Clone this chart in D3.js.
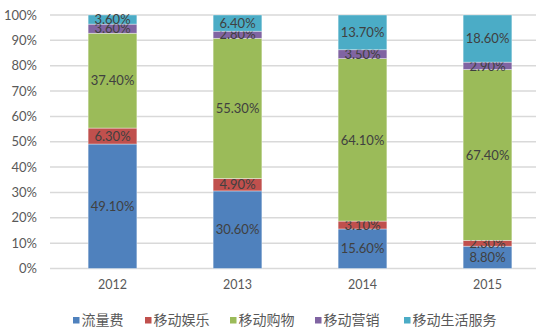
<!DOCTYPE html>
<html><head><meta charset="utf-8">
<script src="https://cdn.jsdelivr.net/npm/d3@7"></script>
<style>
body{margin:0;background:#fff;}
svg{display:block;font-family:Lato,"Noto Sans CJK SC",sans-serif;}
</style></head>
<body><svg id="c" width="536" height="329"></svg>
<script>
const years = ["2012","2013","2014","2015"];
const seriesNames = ["流量费","移动娱乐","移动购物","移动营销","移动生活服务"];
const seriesColors = ["#4F81BD","#C0504D","#9BBB59","#8064A2","#4BACC6"];
const trafficFee   = [49.1, 30.6, 15.6, 8.8];
const entertainment = [6.3, 4.9, 3.1, 2.3];
const shopping     = [37.4, 55.3, 64.1, 67.4];
const marketing    = [3.6, 2.8, 3.5, 2.9];
const lifeServices = [3.6, 6.4, 13.7, 18.6];
const yTicks = [0,10,20,30,40,50,60,70,80,90,100];

const seriesValues = [trafficFee, entertainment, shopping, marketing, lifeServices];
const rows = years.map((yr,i)=>{
  const r = {year:yr};
  seriesNames.forEach((n,k)=>r[n]=seriesValues[k][i]);
  return r;
});
const stacked = d3.stack().keys(seriesNames)(rows);

const svg = d3.select("#c");
const plotLeft = 50, plotRight = 550, plotTop = 15, plotBottom = 268.5;
const x = d3.scaleBand().domain(years).range([plotLeft,plotRight]).paddingInner(0.61).paddingOuter(0.305);
const y = d3.scaleLinear().domain([0,100]).range([plotBottom,plotTop]);

// gridlines
svg.append("g").selectAll("line").data(yTicks).join("line")
  .attr("x1",plotLeft).attr("x2",536)
  .attr("y1",d=>y(d)).attr("y2",d=>y(d))
  .attr("stroke","#D9D9D9").attr("stroke-width",1.5);

// y axis labels
const yAxis = svg.append("g").attr("transform",`translate(${plotLeft-13},0)`)
  .call(d3.axisLeft(y).tickValues(yTicks).tickFormat(d=>d+"%").tickSize(0).tickPadding(0));
yAxis.select(".domain").remove();
yAxis.selectAll("text").attr("fill","#595959").attr("font-size","13px").attr("font-family","Lato");

// x axis labels
const xAxis = svg.append("g").attr("transform",`translate(0,${plotBottom+9})`)
  .call(d3.axisBottom(x).tickSize(0).tickPadding(3));
xAxis.select(".domain").remove();
xAxis.selectAll("text").attr("fill","#595959").attr("font-size","12.5px").attr("font-family","Lato");

// stacked bars
const layers = svg.append("g").selectAll("g").data(stacked).join("g")
  .attr("fill",(d,i)=>seriesColors[i]);
layers.selectAll("rect").data(d=>d).join("rect")
  .attr("x",d=>x(d.data.year))
  .attr("width",x.bandwidth())
  .attr("y",d=>y(d[1]))
  .attr("height",d=>y(d[0])-y(d[1]))
  .attr("stroke","#fff").attr("stroke-opacity",0.5).attr("stroke-width",0.75);

// value labels
layers.selectAll("text").data(d=>d.map(p=>({p,key:d.key}))).join("text")
  .attr("x",d=>x(d.p.data.year)+x.bandwidth()/2)
  .attr("y",d=>(y(d.p[0])+y(d.p[1]))/2)
  .attr("dy","0.36em")
  .attr("text-anchor","middle")
  .attr("fill","#404040").attr("font-size","13px").attr("font-family","Lato")
  .text(d=>d.p.data[d.key].toFixed(2)+"%");

// legend
const legendX = [73,145,230,315,404];
const lg = svg.append("g").selectAll("g").data(seriesNames).join("g")
  .attr("transform",(d,i)=>`translate(${legendX[i]},320)`);
lg.append("rect").attr("x",0).attr("y",-3).attr("width",6.5).attr("height",6.5)
  .attr("fill",(d,i)=>seriesColors[i]);
lg.append("text").attr("x",8.5).attr("dy","0.36em")
  .attr("fill","#595959").attr("font-size","14px").text(d=>d);
</script></body></html>
